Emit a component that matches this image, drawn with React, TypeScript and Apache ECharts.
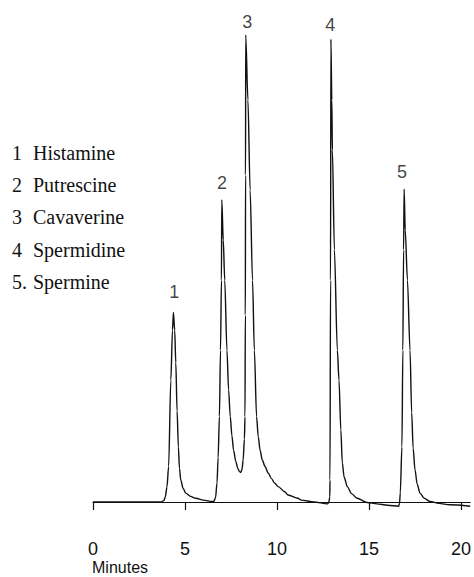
import React, { useEffect, useRef } from "react";
import * as echarts from "echarts";

// Chromatogram trace: retention time (min) and detector response (relative units)
const traceTime = [
  0, 3.7, 3.85, 3.93, 4.02, 4.11, 4.23, 4.32, 4.37, 4.44, 4.5, 4.57, 4.64, 4.7, 4.77, 4.9, 5.04, 5.3, 5.58, 6.0, 6.47, 6.56,
  6.66, 6.74, 6.8, 6.87, 6.93, 6.98, 7.0, 7.08, 7.16, 7.28, 7.37, 7.46, 7.55, 7.64, 7.76, 7.87, 7.96, 8.03,
  8.1, 8.16, 8.23, 8.26, 8.28, 8.29, 8.3, 8.42, 8.54, 8.67, 8.77, 8.89, 8.98, 9.08, 9.2, 9.35, 9.52, 9.7, 9.88, 10.06,
  10.42, 10.6, 11.14, 11.32, 12.0, 12.75,
  12.82, 12.87, 12.88, 12.91, 12.93, 12.98, 13.01, 13.12, 13.28, 13.37, 13.47, 13.55, 13.65, 13.82, 14.05, 14.35,
  14.9, 15.43, 16.0, 16.61,
  16.66, 16.7, 16.79, 16.84, 16.88, 16.91, 16.97, 17.09, 17.23, 17.32, 17.4, 17.5, 17.62, 17.77, 18.0, 18.31, 18.8, 19.39, 20.5,
];
const traceSignal = [
  0, 0, 0.3, 1.1, 3.2, 7.6, 26.1, 36.8, 40.6, 36.8, 29.8, 19.5, 11.8, 7.2, 4.7, 2.9, 1.9, 1.2, 0.8, 0.4, 0.1, 0.1,
  0.9, 4.1, 9.5, 18.3, 32.5, 47.5, 64.7, 56.1, 47.5, 32.5, 24.0, 18.3, 14.2, 11.1, 8.7, 7.2, 6.5, 6.3,
  7.0, 9.0, 13.5, 18.3, 40.0, 70.0, 100, 86.1, 66.8, 47.5, 32.5, 18.3, 14.0, 11.1, 9.0, 7.6, 6.2, 5.0, 4.0, 3.3,
  2.2, 1.5, 0.8, 0.4, 0, -0.4,
  0, 1.1, 4.7, 47.5, 99.1, 86.1, 75.4, 54.0, 32.5, 26.1, 15.4, 8.4, 5.3, 3.3, 1.8, 0.8,
  -0.1, -0.4, -0.7, -0.9,
  -0.3, 1.9, 11.8, 32.5, 54.0, 67.0, 58.2, 47.5, 32.5, 19.1, 11.5, 6.9, 3.8, 1.9, 0.8, 0.1, -0.3, -0.6, -0.9,
];

// Peak number labels: position (time, response)
const peakLabels = ["1", "2", "3", "4", "5"];
const peakLabelTime = [4.41, 7.01, 8.38, 12.9, 16.79];
const peakLabelSignal = [45.0, 68.4, 102.8, 102.1, 70.7];

// Legend of compounds
const legendNumbers = ["1", "2", "3", "4", "5."];
const compoundNames = ["Histamine", "Putrescine", "Cavaverine", "Spermidine", "Spermine"];

// Axis
const xMin = 0;
const xMax = 20.5;
const xInterval = 5;
const xAxisTitle = "Minutes";

export default function App() {
  const ref = useRef<HTMLDivElement>(null);

  useEffect(() => {
    if (!ref.current) return;
    const chart = echarts.init(ref.current, undefined, { renderer: "svg" });

    const lineData = traceTime.map((t, i) => [t, traceSignal[i]]);
    const labelData = peakLabels.map((name, i) => ({
      name,
      value: [peakLabelTime[i], peakLabelSignal[i]],
    }));

    const legendStartY = 153;
    const legendStep = 32.2;
    const legendGraphics: any[] = [];
    compoundNames.forEach((name, i) => {
      legendGraphics.push({
        type: "text",
        x: 12,
        y: legendStartY + i * legendStep,
        style: {
          text: legendNumbers[i],
          font: '20px "Liberation Serif", "DejaVu Serif", serif',
          fill: "#111",
          verticalAlign: "middle",
          align: "left",
        },
      });
      legendGraphics.push({
        type: "text",
        x: 33,
        y: legendStartY + i * legendStep,
        style: {
          text: name,
          font: '20px "Liberation Serif", "DejaVu Serif", serif',
          fill: "#111",
          verticalAlign: "middle",
          align: "left",
        },
      });
    });
    legendGraphics.push({
      type: "text",
      x: 92,
      y: 567,
      style: {
        text: xAxisTitle,
        font: '16px "Liberation Sans", Arial, sans-serif',
        fill: "#111",
        verticalAlign: "middle",
        align: "left",
      },
    });

    chart.setOption({
      animation: false,
      backgroundColor: "#ffffff",
      grid: { left: 93, right: 0, top: 35, bottom: 54 },
      xAxis: {
        type: "value",
        min: xMin,
        max: xMax,
        interval: xInterval,
        axisLine: { show: true, lineStyle: { color: "#111", width: 1.2 } },
        axisTick: { show: true, inside: false, length: 8, lineStyle: { color: "#111", width: 1.2 } },
        axisLabel: {
          show: true,
          fontSize: 18,
          fontFamily: '"Liberation Sans", Arial, sans-serif',
          color: "#111",
          margin: 17,
          showMaxLabel: false,
        },
        splitLine: { show: false },
      },
      yAxis: {
        type: "value",
        min: -4.5,
        max: 100,
        show: false,
        splitLine: { show: false },
      },
      series: [
        {
          type: "line",
          data: lineData,
          showSymbol: false,
          symbol: "none",
          smooth: 0.3,
          smoothMonotone: "x",
          lineStyle: { color: "#111", width: 1.4 },
          clip: false,
          z: 2,
        },
        {
          type: "scatter",
          data: labelData,
          symbolSize: 0,
          clip: false,
          label: {
            show: true,
            position: "inside",
            formatter: (p: any) => p.name,
            fontSize: 18,
            fontFamily: '"Liberation Sans", Arial, sans-serif',
            color: "#111",
          },
          z: 3,
        },
      ],
      graphic: legendGraphics,
    });

    return () => chart.dispose();
  }, []);

  return <div ref={ref} style={{ width: 474, height: 577, position: "absolute", left: 0, top: 0 }} />;
}
